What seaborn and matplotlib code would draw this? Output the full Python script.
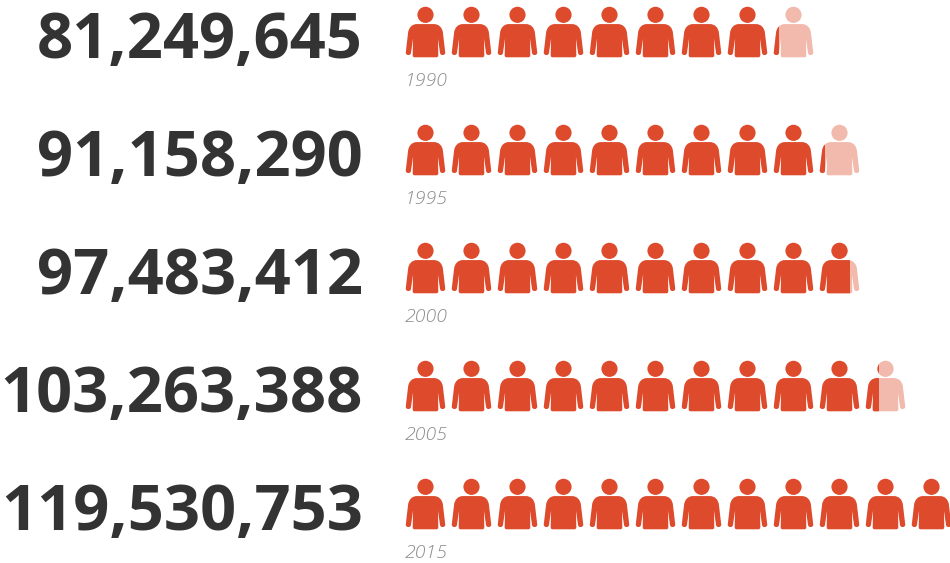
import numpy as np
import pandas as pd
import matplotlib
matplotlib.use("Agg")
import matplotlib.pyplot as plt
from matplotlib.path import Path
from matplotlib.patches import Rectangle
from matplotlib.transforms import Affine2D
import seaborn as sns

# Population by census year; one figure stands for ten million people
years = ["1990", "1995", "2000", "2005", "2015"]
population = [81249645, 91158290, 97483412, 103263388, 119530753]
people_per_icon = 10_000_000

RED = "#DE4A2C"
PALE = "#F2B9AD"
INK = "#333333"
GREY = "#8C8C8C"

sns.set_theme(style="white")
plt.rcParams["font.family"] = ["Open Sans", "DejaVu Sans"]


def person_marker():
    """Head and shoulders silhouette, centred, y pointing up."""
    M, L, C, Z = Path.MOVETO, Path.LINETO, Path.CURVE4, Path.CLOSEPOLY
    pts = [
        ((11.5, 17), M), ((29, 17), L),
        ((34.5, 17), C), ((37.8, 21), C), ((38.4, 26), C),
        ((40.8, 46.5), L),
        ((41, 49.8), C), ((35.8, 50.2), C), ((35.4, 47), C),
        ((33.2, 32), L), ((33.6, 49), L),
        ((33.6, 50.6), C), ((33, 51.5), C), ((31.5, 51.5), C),
        ((9, 51.5), L),
        ((7.5, 51.5), C), ((7, 50.6), C), ((7, 49), C),
        ((7.4, 32), L), ((5.2, 47), L),
        ((4.8, 50.2), C), ((-0.4, 49.8), C), ((-0.2, 46.5), C),
        ((2.2, 26), L),
        ((2.8, 21), C), ((6, 17), C), ((11.5, 17), C),
        ((11.5, 17), Z),
    ]
    body = Path([p for p, _ in pts], [c for _, c in pts])
    head = Path.unit_circle().transformed(Affine2D().scale(8.4).translate(20.3, 7.4))
    whole = Path.make_compound_path(head, body)
    return whole.transformed(Affine2D().translate(-20.3, -25.75).scale(1, -1))


PERSON = person_marker()
ICON_W, ICON_H = 41.0, 51.5
PITCH_X, PITCH_Y = 46.0, 118.0
MARKER_S = (ICON_H * 0.72) ** 2

# One row per figure drawn, with the share of it that is filled
rows = []
for row, (year, pop) in enumerate(zip(years, population)):
    units = pop / people_per_icon
    for slot in range(int(np.ceil(units))):
        rows.append({"row": row, "slot": slot, "fill": min(1.0, units - slot)})
icons = pd.DataFrame(rows)

fig = plt.figure(figsize=(9.5, 5.63), dpi=100, facecolor="white")
ax = fig.add_axes([0, 0, 1, 1])
x0, y0 = 425.3, 32.0  # pixel centre of the first figure
ax.set_xlim(-x0 / PITCH_X, (950 - x0) / PITCH_X)
ax.set_ylim((563 - y0) / PITCH_Y, -y0 / PITCH_Y)
ax.set_axis_off()


def draw(frame, color):
    n = len(ax.collections)
    sns.scatterplot(data=frame, x="slot", y="row", marker=PERSON, s=MARKER_S,
                    color=color, linewidth=0, legend=False, ax=ax)
    return ax.collections[n:]


partial = icons[icons["fill"] < 0.9]
draw(partial, PALE)
draw(icons[icons["fill"] >= 0.9], RED)
for _, icon in partial.iterrows():
    left = icon["slot"] - ICON_W / 2 / PITCH_X
    for coll in draw(partial.loc[[icon.name]], RED):
        coll.set_clip_path(Rectangle((left, icon["row"] - 0.5),
                                     icon["fill"] * ICON_W / PITCH_X, 1,
                                     transform=ax.transData))

# Totals to the left of each row, year captions beneath the first figure
for row, (year, pop) in enumerate(zip(years, population)):
    ax.text((363 - x0) / PITCH_X, row + 9 / PITCH_Y, f"{pop:,}", ha="right",
            va="center", fontsize=45.5, fontweight="bold", color=INK)
    ax.text(-21 / PITCH_X, row + 49.5 / PITCH_Y, year, ha="left", va="center",
            fontsize=14, fontstyle="italic", fontweight="light", color=GREY)

fig.savefig("out.png", dpi=100, facecolor="white")
